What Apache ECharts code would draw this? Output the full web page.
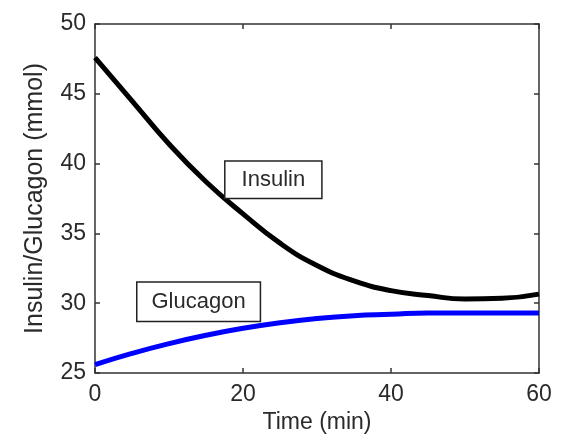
<!DOCTYPE html>
<html>
<head>
<meta charset="utf-8">
<script src="https://cdn.jsdelivr.net/npm/echarts@6/dist/echarts.min.js"></script>
<style>html,body{margin:0;padding:0;background:#fff;}#c{width:563px;height:444px;}</style>
</head>
<body>
<div id="c"></div>
<script>
var times = [0, 5, 10, 15, 20, 25, 30, 35, 40, 45, 50, 55, 60];
var insulin = [47.6, 44.5, 41.4, 38.7, 36.4, 34.3, 32.7, 31.6, 30.9, 30.55, 30.3, 30.35, 30.65];
var glucagon = [25.6, 26.4, 27.1, 27.7, 28.2, 28.6, 28.9, 29.1, 29.2, 29.3, 29.3, 29.3, 29.3];
var xTicks = [0, 20, 40, 60];
var yTicks = [25, 30, 35, 40, 45, 50];
var annotations = [
  {text: 'Insulin', t: 24.1, v: 38.85},
  {text: 'Glucagon', t: 14.0, v: 30.1}
];

var font = 'Liberation Sans, Arial, Helvetica, sans-serif';
var textColor = '#2a2a2a';
var axisColor = '#333';

function pairs(ys) { return times.map(function (t, i) { return [t, ys[i]]; }); }

var chart = echarts.init(document.getElementById('c'), null, {renderer: 'canvas'});
var xBase = {
  type: 'value', min: xTicks[0], max: xTicks[xTicks.length - 1], interval: 20,
  axisLine: {show: true, onZero: false, lineStyle: {color: axisColor, width: 1.5}},
  axisTick: {show: true, inside: true, length: 5, lineStyle: {color: axisColor, width: 1.5}},
  splitLine: {show: false}
};
var yBase = {
  type: 'value', min: yTicks[0], max: yTicks[yTicks.length - 1], interval: 5,
  axisLine: {show: true, onZero: false, lineStyle: {color: axisColor, width: 1.5}},
  axisTick: {show: true, inside: true, length: 5, lineStyle: {color: axisColor, width: 1.5}},
  splitLine: {show: false}
};
var option = {
  animation: false,
  backgroundColor: '#fff',
  grid: {left: 95, top: 24, right: 24, bottom: 71, containLabel: false},
  xAxis: [
    Object.assign({}, xBase, {
      position: 'bottom',
      name: 'Time (min)', nameLocation: 'middle', nameGap: 37,
      nameTextStyle: {color: textColor, fontSize: 23, fontFamily: font},
      axisLabel: {color: textColor, fontSize: 23, fontFamily: font, margin: 10}
    }),
    Object.assign({}, xBase, {position: 'top', axisLabel: {show: false}})
  ],
  yAxis: [
    Object.assign({}, yBase, {
      position: 'left',
      name: 'Insulin/Glucagon (mmol)', nameLocation: 'middle', nameGap: 47,
      nameTextStyle: {color: textColor, fontSize: 25, fontFamily: font},
      axisLabel: {color: textColor, fontSize: 23, fontFamily: font, margin: 9}
    }),
    Object.assign({}, yBase, {position: 'right', axisLabel: {show: false}})
  ],
  series: [
    {
      name: 'Insulin', type: 'line', smooth: true, showSymbol: false,
      xAxisIndex: 0, yAxisIndex: 0,
      data: pairs(insulin),
      lineStyle: {color: '#000', width: 5},
      markPoint: {
        symbol: 'rect', symbolSize: 0,
        data: [{coord: [annotations[0].t, annotations[0].v]}],
        label: {
          show: true, position: 'inside', formatter: annotations[0].text,
          color: textColor, fontSize: 22, fontFamily: font,
          backgroundColor: '#fff', borderColor: '#222', borderWidth: 1.5,
          padding: [7, 16, 7, 16], lineHeight: 22
        }
      }
    },
    {
      name: 'Glucagon', type: 'line', smooth: true, showSymbol: false,
      xAxisIndex: 0, yAxisIndex: 0,
      data: pairs(glucagon),
      lineStyle: {color: '#0000ff', width: 5},
      markPoint: {
        symbol: 'rect', symbolSize: 0,
        data: [{coord: [annotations[1].t, annotations[1].v]}],
        label: {
          show: true, position: 'inside', formatter: annotations[1].text,
          color: textColor, fontSize: 22, fontFamily: font,
          backgroundColor: '#fff', borderColor: '#222', borderWidth: 1.5,
          padding: [8, 14, 8, 14], lineHeight: 22
        }
      }
    }
  ]
};
chart.setOption(option);
</script>
</body>
</html>
